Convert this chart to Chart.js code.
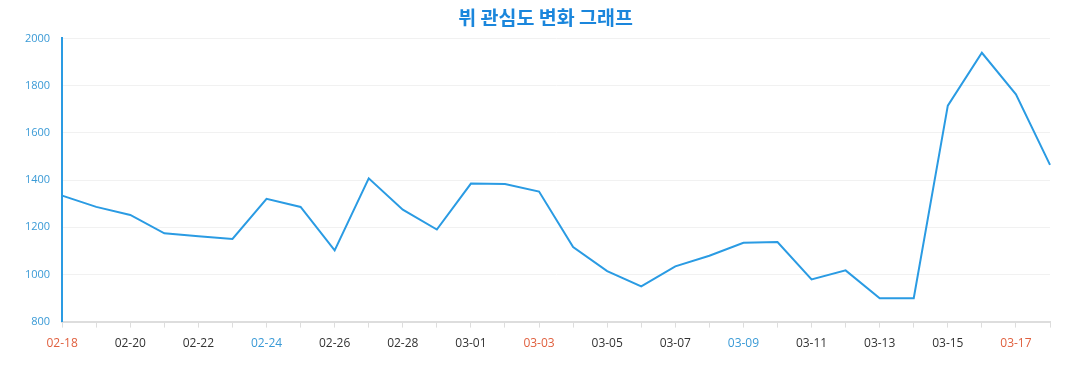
<!DOCTYPE html>
<html>
<head>
<meta charset="utf-8">
<script src="https://cdn.jsdelivr.net/npm/chart.js@4"></script>
<style>
  html, body { margin: 0; padding: 0; background: #fff; }
  #wrap { width: 1077px; height: 390px; }
</style>
</head>
<body>
<div id="wrap"><canvas id="chart"></canvas></div>
<script>
const dates = [
  "02-18", "02-19", "02-20", "02-21", "02-22", "02-23", "02-24", "02-25", "02-26", "02-27",
  "02-28", "02-29", "03-01", "03-02", "03-03", "03-04", "03-05", "03-06", "03-07", "03-08",
  "03-09", "03-10", "03-11", "03-12", "03-13", "03-14", "03-15", "03-16", "03-17", "03-18"
];
const interest = [
  1334, 1286, 1252, 1174, 1162, 1150, 1320, 1286, 1102, 1407,
  1274, 1190, 1385, 1383, 1351, 1116, 1014, 949, 1034, 1079,
  1134, 1137, 979, 1017, 899, 899, 1715, 1939, 1763, 1464
];
const sundays = ["02-18", "02-25", "03-03", "03-10", "03-17"];
const saturdays = ["02-24", "03-02", "03-09", "03-16"];

function labelColor(ctx) {
  const d = dates[ctx.index];
  if (sundays.includes(d)) return "#e0603f";
  if (saturdays.includes(d)) return "#3a9ad6";
  return "#333333";
}

// nudge the title a bit right, the original sits off-centre
const titleShift = {
  id: "titleShift",
  afterLayout(chart) {
    if (chart.titleBlock) chart.titleBlock.left += 24;
  }
};

const ctx = document.getElementById("chart").getContext("2d");
const myChart = new Chart(ctx, {
  type: "line",
  data: {
    labels: dates,
    datasets: [{
      label: "관심도",
      data: interest,
      borderColor: "#2a9be3",
      borderWidth: 2,
      pointRadius: 0,
      tension: 0,
      fill: false
    }]
  },
  options: {
    responsive: true,
    maintainAspectRatio: false,
    animation: false,
    layout: { padding: { left: 17, right: 27, top: 4, bottom: 30 } },
    plugins: {
      legend: { display: false },
      tooltip: { enabled: false },
      title: {
        display: true,
        text: "뷔 관심도 변화 그래프",
        color: "#1a86dc",
        font: { family: "'Noto Sans CJK KR', 'Noto Sans'", size: 19.5, weight: "bold" },
        padding: { top: 2, bottom: 9 }
      }
    },
    scales: {
      x: {
        offset: false,
        grid: { drawOnChartArea: false, color: "#dddddd", tickLength: 6 },
        border: { color: "#dddddd", width: 2 },
        ticks: {
          autoSkip: false,
          maxRotation: 0,
          padding: 9,
          color: labelColor,
          font: { family: "'Open Sans'", size: 12 },
          callback: function (v, i) { return i % 2 === 0 ? dates[i] : ""; }
        }
      },
      y: {
        min: 800,
        max: 2000,
        ticks: {
          stepSize: 200,
          color: "#3a9ad6",
          padding: 8,
          font: { family: "'Open Sans'", size: 11 },
          callback: function (v) { return String(v); }
        },
        grid: { color: "#f1f1f1", tickLength: 4, tickColor: "#ffffff" },
        border: { color: "#2a9be3", width: 2 }
      }
    }
  },
  plugins: [titleShift]
});
</script>
</body>
</html>
